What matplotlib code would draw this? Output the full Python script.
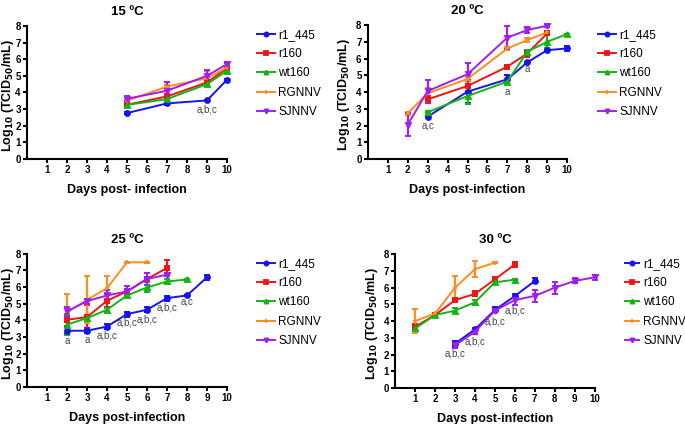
import matplotlib.pyplot as plt
from matplotlib.lines import Line2D

plt.rcParams['font.family'] = ['Liberation Sans', 'DejaVu Sans']
plt.rcParams['mathtext.default'] = 'bf'

strains = ['r1_445', 'r160', 'wt160', 'RGNNV', 'SJNNV']
colors = ['#1414f0', '#f01414', '#14b414', '#ff8c1e', '#a01ef0']
markers = ['o', 's', '^', '+', 'v']

# 15 C
days_15 = [5, 7, 9, 10]
mean_15 = {
    'r1_445': [2.76, 3.34, 3.52, 4.76],
    'r160': [3.26, 3.76, 4.6, 5.46],
    'wt160': [3.25, 3.6, 4.5, 5.3],
    'RGNNV': [3.5, 4.35, 4.85, 5.5],
    'SJNNV': [3.62, 4.1, 5.0, 5.7],
}
err_15 = {
    'r1_445': [0.05, 0.1, 0.05, 0.05],
    'r160': [0.08, 0.1, 0.15, 0.3],
    'wt160': [0.05, 0.08, 0.1, 0.1],
    'RGNNV': [0.1, 0.1, 0.45, 0.1],
    'SJNNV': [0.15, 0.5, 0.35, 0.15],
}

# 20 C
days_20 = {
    'r1_445': [3, 5, 7, 8, 9, 10],
    'r160': [3, 5, 7, 8, 9],
    'wt160': [3, 5, 7, 8, 9, 10],
    'RGNNV': [2, 3, 5, 7, 8, 9],
    'SJNNV': [2, 3, 5, 7, 8, 9],
}
mean_20 = {
    'r1_445': [2.53, 4.02, 4.76, 5.77, 6.5, 6.6],
    'r160': [3.56, 4.36, 5.51, 6.31, 7.5],
    'wt160': [2.79, 3.76, 4.62, 6.41, 7.0, 7.46],
    'RGNNV': [2.73, 3.92, 4.78, 6.6, 7.1, 7.56],
    'SJNNV': [2.05, 4.06, 5.06, 7.25, 7.7, 7.96],
}
err_20 = {
    'r1_445': [0.05, 0.7, 0.25, 0.05, 0.05, 0.15],
    'r160': [0.2, 0.3, 0.05, 0.2, 0.1],
    'wt160': [0.05, 0.45, 0.05, 0.1, 0.4, 0.03],
    'RGNNV': [0.1, 0.3, 0.1, 0.1, 0.1, 0.1],
    'SJNNV': [0.7, 0.68, 0.65, 0.7, 0.2, 0.1],
}

# 25 C
days_25 = {
    'r1_445': [2, 3, 4, 5, 6, 7, 8, 9],
    'r160': [2, 3, 4, 5, 6, 7],
    'wt160': [2, 3, 4, 5, 6, 7, 8],
    'RGNNV': [2, 3, 4, 5, 6],
    'SJNNV': [2, 3, 4, 5, 6, 7],
}
mean_25 = {
    'r1_445': [3.38, 3.38, 3.63, 4.38, 4.64, 5.34, 5.5, 6.59],
    'r160': [4.04, 4.2, 5.18, 5.74, 6.49, 7.15],
    'wt160': [3.75, 4.14, 4.64, 5.5, 5.98, 6.34, 6.46],
    'RGNNV': [4.48, 5.24, 5.94, 7.49, 7.49],
    'SJNNV': [4.54, 5.16, 5.5, 5.74, 6.49, 6.75],
}
err_25 = {
    'r1_445': [0.2, 0.15, 0.15, 0.15, 0.15, 0.15, 0.05, 0.15],
    'r160': [0.35, 0.75, 0.4, 0.15, 0.1, 0.5],
    'wt160': [0.65, 0.1, 0.1, 0.1, 0.3, 0.15, 0.03],
    'RGNNV': [1.1, 1.4, 0.75, 0.03, 0.03],
    'SJNNV': [0.25, 0.15, 0.35, 0.3, 0.35, 0.1],
}

# 30 C
days_30 = {
    'r1_445': [3, 4, 5, 6, 7],
    'r160': [1, 2, 3, 4, 5, 6],
    'wt160': [1, 2, 3, 4, 5, 6],
    'RGNNV': [1, 2, 3, 4, 5],
    'SJNNV': [3, 4, 5, 6, 7, 8, 9, 10],
}
mean_30 = {
    'r1_445': [2.65, 3.5, 4.66, 5.49, 6.39],
    'r160': [3.66, 4.36, 5.25, 5.62, 6.49, 7.38],
    'wt160': [3.56, 4.36, 4.62, 5.12, 6.31, 6.47],
    'RGNNV': [4.0, 4.45, 5.99, 7.1, 7.48],
    'SJNNV': [2.55, 3.36, 4.62, 5.25, 5.5, 5.99, 6.39, 6.61],
}
err_30 = {
    'r1_445': [0.15, 0.1, 0.15, 0.1, 0.15],
    'r160': [0.15, 0.1, 0.1, 0.15, 0.1, 0.15],
    'wt160': [0.1, 0.1, 0.15, 0.15, 0.1, 0.03],
    'RGNNV': [0.7, 0.05, 0.7, 0.5, 0.03],
    'SJNNV': [0.15, 0.15, 0.1, 0.3, 0.35, 0.35, 0.15, 0.15],
}

# significance labels (day, y, text)
notes_15 = [(9, 2.95, 'a,b,c')]
notes_20 = [(3, 2.0, 'a,c'), (7, 4.0, 'a'), (8, 5.35, 'a')]
notes_25 = [(2, 2.75, 'a'), (3, 2.8, 'a'), (4, 3.1, 'a,b,c'), (5, 3.85, 'a,b,c'),
            (6, 4.05, 'a,b,c'), (7, 4.75, 'a,b,c'), (8, 5.15, 'a,c')]
notes_30 = [(3, 2.05, 'a,b,c'), (4, 2.75, 'a,b,c'), (5, 3.95, 'a,b,c'), (6, 4.65, 'a,b,c')]


def panel(rect, title, days, means, errs, notes, xlabel, legend_pos, ylab_x, hlen):
    ax = fig.add_axes(rect)
    handles = []
    for s, c, m in zip(strains, colors, markers):
        x = days[s] if isinstance(days, dict) else days
        ax.errorbar(x, means[s], yerr=errs[s], color=c, marker=m, markersize=3.5,
                    markeredgewidth=1.4, linewidth=1.4, elinewidth=1.6,
                    capsize=2, capthick=1.6, clip_on=False)
        handles.append(Line2D([], [], color=c, marker=m, markersize=3,
                              markeredgewidth=1.3, linewidth=1.4, label=s))
    for x, y, t in notes:
        ax.text(x, y, t, ha='center', va='center', fontsize=7, color='#444444')
    ax.set_xlim(0, 10)
    ax.set_ylim(0, 8)
    ax.set_xticks(range(1, 11))
    ax.set_yticks(range(0, 9))
    ax.spines['top'].set_visible(False)
    ax.spines['right'].set_visible(False)
    ax.spines['left'].set_linewidth(1.5)
    ax.spines['bottom'].set_linewidth(1.5)
    ax.tick_params(width=1.5, length=3, labelsize=7, pad=1.5)
    for lab in ax.get_xticklabels() + ax.get_yticklabels():
        lab.set_fontweight('bold')
    ax.set_title(title, fontsize=9.5, fontweight='bold', pad=8)
    ax.set_xlabel(xlabel, fontsize=9, fontweight='bold', labelpad=6)
    ax.set_ylabel('Log$_{10}$ (TCID$_{50}$/mL)', fontsize=9, fontweight='bold')
    ax.yaxis.set_label_coords(ylab_x, 0.48)
    ax.legend(handles=handles, loc='upper left', bbox_to_anchor=legend_pos,
              bbox_transform=fig.transFigure, frameon=False, fontsize=8.5,
              handlelength=hlen, handletextpad=0.3, labelspacing=0.62,
              borderpad=0, borderaxespad=0)
    return ax


fig = plt.figure(figsize=(6.85, 4.24), dpi=100)

panel([0.0394, 0.625, 0.292, 0.314], '15 ºC', days_15, mean_15, err_15, notes_15,
      'Days post- infection', (0.375, 0.932), -0.057, 1.5)
panel([0.537, 0.625, 0.291, 0.316], '20 ºC', days_20, mean_20, err_20, notes_20,
      'Days post-infection', (0.873, 0.932), -0.08, 1.5)
panel([0.0394, 0.0873, 0.292, 0.314], '25 ºC', days_25, mean_25, err_25, notes_25,
      'Days post-infection', (0.375, 0.392), -0.057, 1.5)
panel([0.577, 0.0849, 0.291, 0.316], '30 ºC', days_30, mean_30, err_30, notes_30,
      'Days post-infection', (0.912, 0.392), -0.075, 1.25)

plt.savefig('out.png', dpi=100)
